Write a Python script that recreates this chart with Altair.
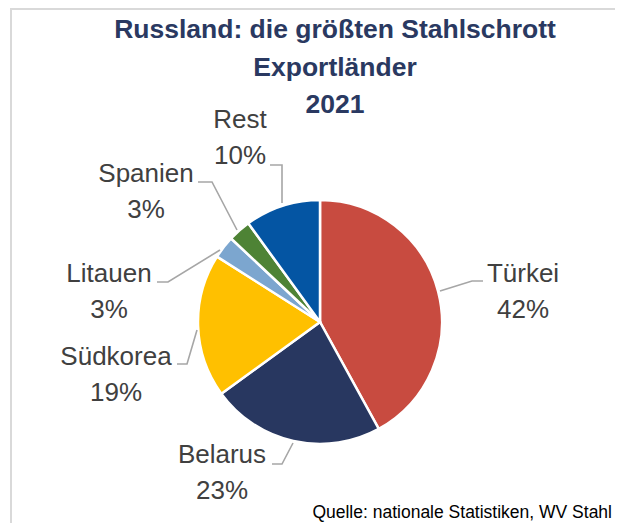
import altair as alt
import pandas as pd

# ---- data ----
lands = ["Türkei", "Belarus", "Südkorea", "Litauen", "Spanien", "Rest"]
shares = [42, 23, 19, 3, 3, 10]
colors = ["#C84B40", "#283760", "#FFC000", "#7CA6CF", "#4E8335", "#0455A3"]
title_lines = ["Russland: die größten Stahlschrott", "Exportländer", "2021"]
source_text = "Quelle: nationale Statistiken, WV Stahl"

# ---- layout (pixel positions inside the view) ----
label_pos = {  # centre x, baseline y of name line
    "Türkei": (515, 274),
    "Belarus": (214, 455),
    "Südkorea": (108, 357),
    "Litauen": (101, 274),
    "Spanien": (138, 174),
    "Rest": (232, 120),
}
leader_pts = {
    "Türkei": [(432, 283), (464, 273), (475, 273)],
    "Rest": [(274, 195), (274, 157), (262, 157)],
    "Spanien": [(229, 222), (204, 174), (190, 174)],
    "Litauen": [(212, 242), (160, 274), (149, 274)],
    "Südkorea": [(189, 322), (179, 356), (169, 356)],
    "Belarus": [(285, 435), (274, 456), (264, 456)],
}
W, H = 607, 515
CX, CY, R = 312, 314, 122
FONT = "Liberation Sans, Arial, sans-serif"

pie_df = pd.DataFrame({"land": lands, "value": shares, "idx": range(len(lands))})

lab_df = pd.DataFrame({
    "land": lands,
    "pct": [f"{v}%" for v in shares],
    "lx": [label_pos[l][0] for l in lands],
    "ly": [label_pos[l][1] for l in lands],
})
lab_df["ly2"] = lab_df["ly"] + 36

rows = []
for l, pts in leader_pts.items():
    for i, (px, py) in enumerate(pts):
        rows.append({"seg": l, "i": i, "px": px, "py": py})
line_df = pd.DataFrame(rows)

title_df = pd.DataFrame({"t": title_lines, "ty": [30, 68, 105]})

pie = alt.Chart(pie_df).mark_arc(outerRadius=R, stroke="white", strokeWidth=2.5).encode(
    theta=alt.Theta("value:Q", stack=True),
    order=alt.Order("idx:Q"),
    color=alt.Color("land:N", scale=alt.Scale(domain=lands, range=colors), legend=None),
    x=alt.value(CX),
    y=alt.value(CY),
)

leaders = alt.Chart(line_df).mark_line(color="#A6A6A6", strokeWidth=1.6).encode(
    x=alt.X("px:Q", scale=None, axis=None),
    y=alt.Y("py:Q", scale=None, axis=None),
    detail="seg:N",
    order="i:Q",
)

names = alt.Chart(lab_df).mark_text(font=FONT, fontSize=26, color="#404040", align="center",
                                   baseline="alphabetic").encode(
    x=alt.X("lx:Q", scale=None, axis=None),
    y=alt.Y("ly:Q", scale=None, axis=None),
    text="land:N",
)
pcts = alt.Chart(lab_df).mark_text(font=FONT, fontSize=26, color="#404040", align="center",
                                  baseline="alphabetic").encode(
    x=alt.X("lx:Q", scale=None, axis=None),
    y=alt.Y("ly2:Q", scale=None, axis=None),
    text="pct:N",
)

title = alt.Chart(title_df).mark_text(font=FONT, fontSize=26.5, fontWeight="bold", color="#2A3961",
                                     align="center", baseline="alphabetic").encode(
    x=alt.value(327),
    y=alt.Y("ty:Q", scale=None, axis=None),
    text="t:N",
)

source = alt.Chart(pd.DataFrame({"s": [source_text]})).mark_text(
    font=FONT, fontSize=17.5, color="#000000", align="right", baseline="alphabetic").encode(
    x=alt.value(604), y=alt.value(510), text="s:N")

frame_top = alt.Chart(pd.DataFrame({"a": [0]})).mark_rule(color="#D9D9D9", strokeWidth=2).encode(
    x=alt.value(3), x2=alt.value(W), y=alt.value(1))
frame_left = alt.Chart(pd.DataFrame({"a": [0]})).mark_rule(color="#D9D9D9", strokeWidth=2).encode(
    x=alt.value(3), y=alt.value(0), y2=alt.value(H))

chart = alt.layer(frame_top, frame_left, pie, leaders, names, pcts, title, source).properties(
    width=W, height=H, padding=0, autosize=alt.AutoSizeParams(type="none")
).configure_view(stroke=None)

chart.save("out.html", embed_options={"renderer": "svg", "actions": False})
